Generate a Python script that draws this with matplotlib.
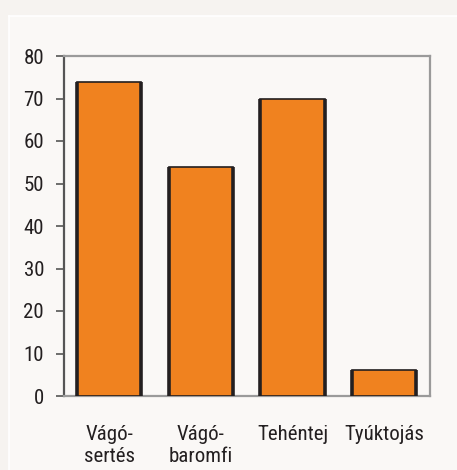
import matplotlib
matplotlib.use("Agg")
import matplotlib.pyplot as plt
from matplotlib.patches import Rectangle

categories = ["Vágó-\nsertés", "Vágó-\nbaromfi", "Tehéntej", "Tyúktojás"]
values = [73.8, 54.0, 70.0, 6.1]
yticks = [0, 10, 20, 30, 40, 50, 60, 70, 80]

plt.rcParams['font.family'] = ['Roboto Condensed', 'Liberation Sans', 'DejaVu Sans']

W, H = 457, 470
fig = plt.figure(figsize=(W / 100, H / 100), dpi=100)
fig.patch.set_facecolor('#f6f3f0')

# background panel
bg = fig.add_axes([0, 0, 1, 1], zorder=-10)
bg.set_xlim(0, W)
bg.set_ylim(H, 0)
bg.axis('off')
bg.add_patch(Rectangle((9, 16), W - 9, H - 16, facecolor='#faf8f6', edgecolor='none'))
bg.plot([9, W], [16, 16], color='white', lw=1.2)
bg.plot([9, 9], [16, H], color='white', lw=1.2)

ax = fig.add_axes([63.5 / W, 1 - 396 / H, (430 - 63.5) / W, (396 - 56) / H])
ax.set_facecolor('#faf8f6')

x = list(range(len(categories)))
bw = 0.70
bars = ax.bar(x, values, width=bw, color='#f0821f', edgecolor='#231f20', linewidth=1.2, zorder=3)
for b in bars:
    x0 = b.get_x()
    x1 = x0 + b.get_width()
    h = b.get_height()
    ax.vlines([x0, x1], 0, h, colors='#231f20', linewidth=2.6, zorder=4)

ax.set_xlim(-0.5, 3.5)
ax.set_ylim(0, 80)
ax.set_yticks(yticks)
ax.set_yticklabels([str(v) for v in yticks])
ax.set_xticks(x)
ax.set_xticklabels(categories, linespacing=1.2)

ax.tick_params(axis='y', direction='out', length=6, width=1.2, color='#555555',
               pad=8, labelsize=15, labelcolor='#231f20')
ax.tick_params(axis='x', length=0, pad=21, labelsize=15, labelcolor='#231f20')

ax.spines['left'].set_color('#555555')
ax.spines['left'].set_linewidth(1.6)
for s in ['top', 'right', 'bottom']:
    ax.spines[s].set_color('#9a9a9a')
    ax.spines[s].set_linewidth(1.6)

fig.savefig('out.png', dpi=100, facecolor=fig.get_facecolor())
